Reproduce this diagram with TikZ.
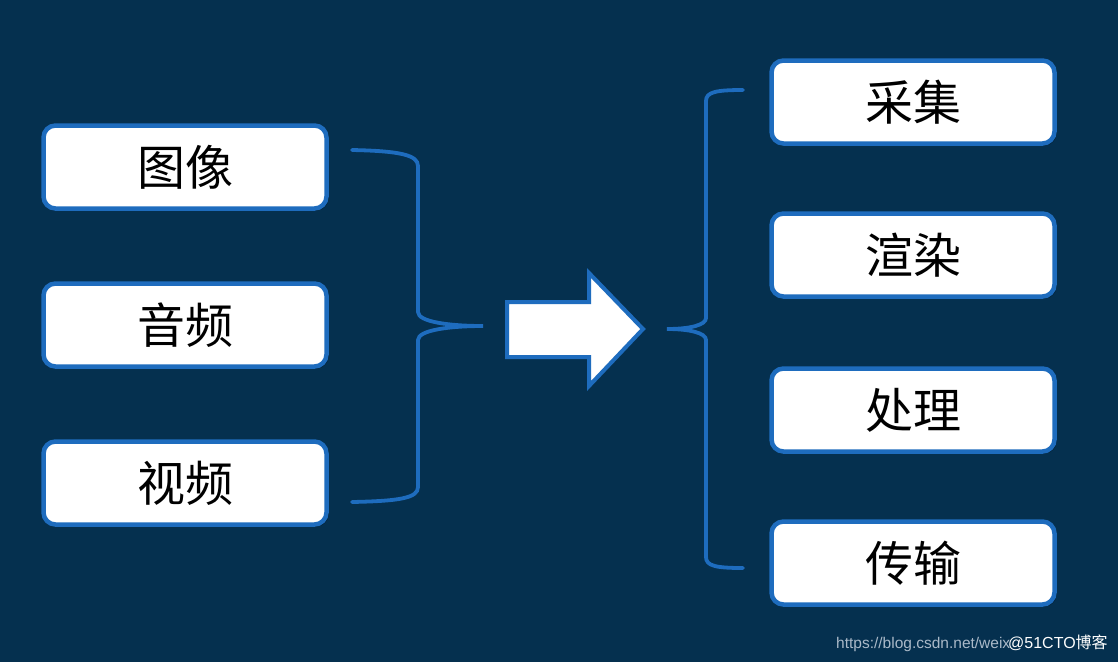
\documentclass[tikz,border=0pt]{standalone}
\usepackage{fontspec}
\setmainfont{Liberation Sans}
\newfontfamily\cjk{Noto Sans CJK SC}
\usetikzlibrary{shadows}
\definecolor{bgc}{RGB}{5,48,79}
\definecolor{bluec}{RGB}{30,108,190}
\definecolor{wmgray}{RGB}{170,185,200}
\tikzset{
  box/.style={draw=bluec, line width=4.5pt, fill=white, rounded corners=12pt,
    minimum width=283pt, minimum height=83pt, inner sep=0pt,
    font=\cjk\fontsize{48}{56}\selectfont, text=black,
    drop shadow={shadow xshift=2pt, shadow yshift=-2pt, opacity=0.35, fill=black}},
  brace/.style={draw=bluec, line width=3.8pt, line cap=round},
  bigarrow/.style={draw=bluec, line width=4pt, fill=white, line join=miter}
}
\begin{document}
\begin{tikzpicture}[x=1pt,y=-1pt]
\fill[bgc] (0,0) rectangle (1118,662);
\useasboundingbox (0,0) rectangle (1118,662);
% left boxes
\node[box] (img) at (185,167) {图像};
\node[box] (aud) at (185,325) {音频};
\node[box] (vid) at (185,483) {视频};
% right boxes
\node[box] (cap) at (913,102) {采集};
\node[box] (ren) at (913,255) {渲染};
\node[box] (pro) at (913,410) {处理};
\node[box] (tra) at (913,563) {传输};
% left brace
\coordinate (lbt) at (352,150);
\coordinate (lbm) at (483,326);
\coordinate (lbb) at (352,502);
\draw[brace] (lbt) .. controls (400,151) and (418,155) .. (418,166) -- (418,312)
  .. controls (418,322) and (450,326) .. (lbm)
  .. controls (450,326) and (418,330) .. (418,340) -- (418,487)
  .. controls (418,498) and (400,501) .. (lbb);
% arrow
\draw[bigarrow] (507,302) -- (589,302) -- (589,273) -- (643,329) -- (589,386) -- (589,357) -- (507,357) -- cycle;
% right brace
\coordinate (rbt) at (743,90);
\coordinate (rbm) at (667,329);
\coordinate (rbb) at (743,568);
\draw[brace] (rbt) .. controls (716,90) and (706,92) .. (706,101) -- (706,318)
  .. controls (706,325) and (690,329) .. (rbm)
  .. controls (690,329) and (706,333) .. (706,340) -- (706,557)
  .. controls (706,566) and (716,568) .. (rbb);
% watermark
\node[anchor=base west, inner sep=0pt, text=wmgray, font=\fontsize{15.5}{17}\selectfont] (wm1) at (836,648) {https://blog.csdn.net/weix};
\node[anchor=base west, inner sep=0pt, text=white, font=\fontsize{16}{18}\selectfont] (wm2) at (1008,648) {@51CTO{\cjk 博客}};
\end{tikzpicture}
\end{document}
